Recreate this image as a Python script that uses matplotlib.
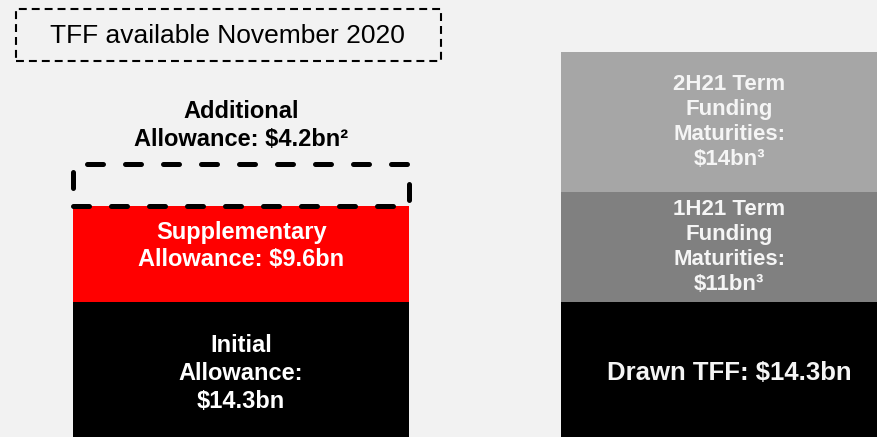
import matplotlib.pyplot as plt
from matplotlib.patches import Rectangle

# stacked values in $bn
left_labels = ['Initial\nAllowance:\n$14.3bn', 'Supplementary\nAllowance: $9.6bn']
left_values = [14.3, 9.6]
left_colors = ['#000000', '#ff0000']
left_offsets = [0, 0.8]
additional_value = 4.2
additional_label = 'Additional\nAllowance: $4.2bn\u00b2'

right_labels = ['Drawn TFF: $14.3bn', '1H21 Term\nFunding\nMaturities:\n$11bn\u00b3',
                '2H21 Term\nFunding\nMaturities:\n$14bn\u00b3']
right_values = [14.3, 11, 14]
right_colors = ['#000000', '#808080', '#a6a6a6']
right_fontsizes = [18.5, 16, 16]

plt.rcParams['font.family'] = ['Liberation Sans', 'DejaVu Sans']

fig = plt.figure(figsize=(8.77, 4.37), dpi=100)
fig.patch.set_facecolor('#f2f2f2')
ax = fig.add_axes([0, 0, 1, 1])
ax.set_facecolor('#f2f2f2')
ax.axis('off')

w = 0.689
bottom = 0
for val, col, lab, off in zip(left_values, left_colors, left_labels, left_offsets):
    ax.bar(0, val, width=w, bottom=bottom, color=col, linewidth=0)
    ax.text(0, bottom + val / 2 + off, lab, ha='center', va='center', color='white',
            fontsize=17, fontweight='bold', linespacing=1.27)
    bottom += val

ax.bar(0, additional_value, width=w, bottom=bottom, fill=False, edgecolor='black',
       linestyle=(0, (3.2, 4.4)), linewidth=3.6, capstyle='round', joinstyle='round')
ax.text(0, bottom + additional_value + 1.3, additional_label, ha='center', va='bottom',
        color='black', fontsize=17, fontweight='bold', linespacing=1.27)

bottom = 0
for val, col, lab, fs in zip(right_values, right_colors, right_labels, right_fontsizes):
    ax.bar(1, val, width=w, bottom=bottom, color=col, linewidth=0)
    ax.text(1, bottom + val / 2, lab, ha='center', va='center', color='#f5f5f5',
            fontsize=fs, fontweight='bold', linespacing=1.25)
    bottom += val

ax.set_xlim(-0.494, 1.303)
ax.set_ylim(0.8, 44.5)

# dashed header box
fig.patches.append(Rectangle((16 / 877, 1 - 61 / 437), 425 / 877, 52 / 437,
                             transform=fig.transFigure, fill=False, edgecolor='black',
                             linestyle=(0, (3.8, 2.4)), linewidth=1.5))
fig.text(227 / 877, 1 - 36 / 437, 'TFF available November 2020', ha='center',
         va='center', fontsize=19, color='black')

plt.savefig('out.png', dpi=100, facecolor=fig.get_facecolor())
